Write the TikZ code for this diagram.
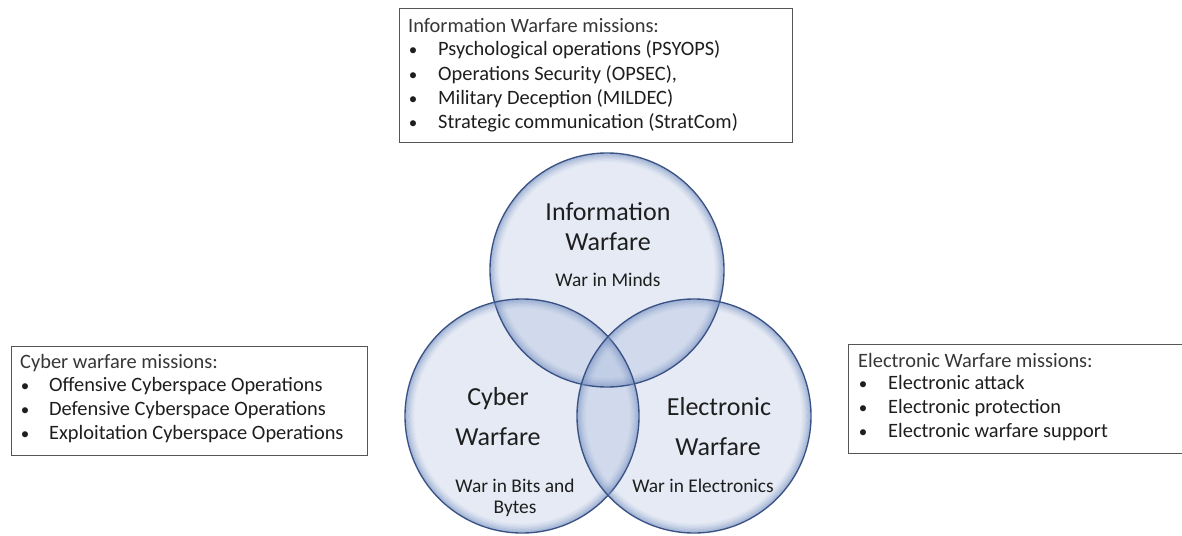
\documentclass[tikz,border=0pt]{standalone}
\usepackage{fontspec}
\setmainfont{Carlito}
\definecolor{txt}{HTML}{1E1E1E}
\definecolor{ttl}{HTML}{363636}
\definecolor{boxline}{HTML}{555555}
\definecolor{cfill}{rgb}{0.60,0.68,0.84}
\definecolor{rimdark}{HTML}{3A5285}
\definecolor{rimsoft}{HTML}{7B95C4}
\tikzset{
  mbox/.style={draw=boxline, line width=1.4pt, fill=white, anchor=north west, inner sep=0pt},
  boxtxt/.style={font=\fontsize{20.4}{24}\selectfont, text=txt, anchor=base west, inner sep=0pt},
  boxttl/.style={boxtxt, text=ttl},
  bul/.style={font=\fontsize{17}{24}\selectfont, text=txt, anchor=base, inner sep=0pt},
  bigtxt/.style={font=\fontsize{26}{30}\selectfont, text=txt, anchor=base, inner sep=0pt},
  smalltxt/.style={font=\fontsize{19.4}{22}\selectfont, text=txt, anchor=base, inner sep=0pt},
}
\begin{document}
\begin{tikzpicture}[x=1pt,y=-1pt]
\useasboundingbox (0,0) rectangle (1182,535);
\fill[white] (0,0) rectangle (1182,535);
% ---- Boxes
\node[mbox, minimum width=393pt, minimum height=134pt] (ibox) at (399,8) {};
\node[mbox, minimum width=356pt, minimum height=109pt] (cbox) at (11,346) {};
\node[mbox, minimum width=340pt, minimum height=109pt] (ebox) at (848,344) {};
% top box text
\node[boxttl] (it) at (408,33) {Information Warfare missions:};
\foreach \y/\t [count=\k] in {56/Psychological operations (PSYOPS),80/{Operations Security (OPSEC),},104/Military Deception (MILDEC),128/Strategic communication (StratCom)}{
  \node[bul] (ib\k) at (413,\y) {•};
  \node[boxtxt] (ii\k) at (438,\y) {\t};
}
% left box text
\node[boxttl] (ct) at (20,368) {Cyber warfare missions:};
\foreach \y/\t [count=\k] in {391/Offensive Cyberspace Operations,415/Defensive Cyberspace Operations,439/Exploitation Cyberspace Operations}{
  \node[bul] (cb\k) at (25,\y) {•};
  \node[boxtxt] (ci\k) at (49,\y) {\t};
}
% right box text
\node[boxttl] (et) at (858,367) {Electronic Warfare missions:};
\foreach \y/\t [count=\k] in {389/Electronic attack,413/Electronic protection,437/Electronic warfare support}{
  \node[bul] (eb\k) at (863,\y) {•};
  \node[boxtxt] (ei\k) at (888,\y) {\t};
}
% ---- Circles
\coordinate (cinfo) at (607,270);
\coordinate (ccyb) at (522,416);
\coordinate (celec) at (694,416);
\foreach \c in {cinfo,ccyb,celec}
  \fill[cfill, fill opacity=0.25] (\c) circle[radius=117pt];
\foreach \c in {cinfo,ccyb,celec}{
  \foreach \i/\o in {1/0.55,2/0.42,3/0.31,4/0.21,5/0.12,6/0.06}
    \draw[rimsoft, line width=1.5pt, draw opacity=\o] (\c) circle[radius={117pt-\i*1.4pt}];
  \draw[rimdark, line width=1.4pt] (\c) circle[radius=117pt];
}
% circle texts
\node[bigtxt] (iw1) at (608,220) {Information};
\node[bigtxt] (iw2) at (608,250) {Warfare};
\node[smalltxt] (iw3) at (608,286) {War in Minds};
\node[bigtxt] (cw1) at (498,405) {Cyber};
\node[bigtxt] (cw2) at (498,445) {Warfare};
\node[smalltxt] (cw3) at (515,492) {War in Bits and};
\node[smalltxt] (cw4) at (515,513) {Bytes};
\node[bigtxt] (ew1) at (719,415) {Electronic};
\node[bigtxt] (ew2) at (718,455) {Warfare};
\node[smalltxt] (ew3) at (703,492) {War in Electronics};
\end{tikzpicture}
\end{document}
